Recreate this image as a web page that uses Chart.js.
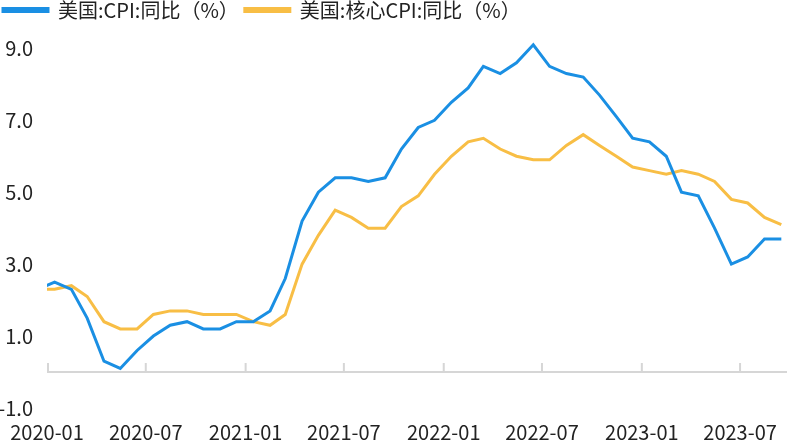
<!DOCTYPE html>
<html>
<head>
<meta charset="utf-8">
<script src="https://cdn.jsdelivr.net/npm/chart.js@4/dist/chart.umd.min.js"></script>
<style>
html,body{margin:0;padding:0;overflow:hidden;background:#fff;width:787px;height:443px;}
#wrap{position:absolute;left:-3px;top:-6px;width:793px;height:462px;}
</style>
</head>
<body>
<div id="wrap"><canvas id="c"></canvas></div>
<script>
// Months (observations dated mid-month)
const months = ['2019-12',
 '2020-01','2020-02','2020-03','2020-04','2020-05','2020-06','2020-07','2020-08','2020-09','2020-10','2020-11','2020-12',
 '2021-01','2021-02','2021-03','2021-04','2021-05','2021-06','2021-07','2021-08','2021-09','2021-10','2021-11','2021-12',
 '2022-01','2022-02','2022-03','2022-04','2022-05','2022-06','2022-07','2022-08','2022-09','2022-10','2022-11','2022-12',
 '2023-01','2023-02','2023-03','2023-04','2023-05','2023-06','2023-07','2023-08','2023-09'];
const cpiYoY = [2.3,
 2.5,2.3,1.5,0.3,0.1,0.6,1.0,1.3,1.4,1.2,1.2,1.4,
 1.4,1.7,2.6,4.2,5.0,5.4,5.4,5.3,5.4,6.2,6.8,7.0,
 7.5,7.9,8.5,8.3,8.6,9.1,8.5,8.3,8.2,7.7,7.1,6.5,
 6.4,6.0,5.0,4.9,4.0,3.0,3.2,3.7,3.7];
const coreCpiYoY = [2.3,
 2.3,2.4,2.1,1.4,1.2,1.2,1.6,1.7,1.7,1.6,1.6,1.6,
 1.4,1.3,1.6,3.0,3.8,4.5,4.3,4.0,4.0,4.6,4.9,5.5,
 6.0,6.4,6.5,6.2,6.0,5.9,5.9,6.3,6.6,6.3,6.0,5.7,
 5.6,5.5,5.6,5.5,5.3,4.8,4.7,4.3,4.1];
const xTickLabels = ['2020-01','2020-07','2021-01','2021-07','2022-01','2022-07','2023-01','2023-07'];
const yTickValues = [-1,1,3,5,7,9];
const seriesNames = ['美国:CPI:同比（%）','美国:核心CPI:同比（%）'];

const DAY = 86400000;
const origin = Date.UTC(2020,0,1);
function dayOf(ym, d){ const [y,m]=ym.split('-').map(Number); return (Date.UTC(y,m-1,d)-origin)/DAY; }
const xs = months.map(m=>dayOf(m,15));
const xTickValues = xTickLabels.map(l=>dayOf(l,1));
const xMax = dayOf('2023-10',1);

const FONT = "'Noto Sans CJK SC','Noto Sans',sans-serif";
const BLUE = '#1a8fe3', ORANGE = '#f8be45', AXIS = '#d6d6d6';

const zeroAxis = {
  id:'zeroAxis',
  beforeDatasetsDraw(chart){
    const {ctx, chartArea, scales:{x,y}} = chart;
    const y0 = y.getPixelForValue(0);
    ctx.save();
    ctx.strokeStyle = AXIS; ctx.lineWidth = 2;
    ctx.beginPath();
    ctx.moveTo(chartArea.left, y0); ctx.lineTo(chartArea.right, y0);
    x.ticks.forEach(t=>{
      const px = Math.max(x.getPixelForValue(t.value), chartArea.left+1);
      ctx.moveTo(px, y0); ctx.lineTo(px, y0-9);
    });
    ctx.stroke();
    ctx.restore();
  }
};

new Chart(document.getElementById('c'), {
  type:'line',
  data:{
    datasets:[
      {label:seriesNames[0], data:xs.map((x,i)=>({x, y:cpiYoY[i]})), borderColor:BLUE, backgroundColor:BLUE, borderWidth:3, pointRadius:0, tension:0, clip:0},
      {label:seriesNames[1], data:xs.map((x,i)=>({x, y:coreCpiYoY[i]})), borderColor:ORANGE, backgroundColor:ORANGE, borderWidth:3, pointRadius:0, tension:0, clip:0}
    ]
  },
  options:{
    responsive:true, maintainAspectRatio:false, animation:false,
    layout:{padding:{left:0,right:0,top:0,bottom:0}},
    plugins:{
      legend:{display:true, position:'top', align:'start',
        labels:{boxWidth:45, boxHeight:3, padding:6, color:'#222', font:{family:FONT, size:20}}},
      tooltip:{enabled:false}
    },
    scales:{
      x:{type:'linear', min:0, max:xMax,
        grid:{display:false, drawTicks:false}, border:{display:false},
        afterBuildTicks(s){ s.ticks = xTickValues.map(v=>({value:v})); },
        ticks:{autoSkip:false, maxRotation:0, padding:12, color:'#222', font:{family:FONT, size:20},
          callback(v){ const i = xTickValues.indexOf(v); return i>=0 ? xTickLabels[i] : ''; }}
      },
      y:{type:'linear', min:-1, max:9.51,
        grid:{display:false, drawTicks:false}, border:{display:false},
        afterBuildTicks(s){ s.ticks = yTickValues.map(v=>({value:v})); },
        afterFit(s){ s.width = 50; },
        ticks:{padding:14, color:'#222', font:{family:FONT, size:20},
          callback(v){ return Number(v).toFixed(1); }}
      }
    }
  },
  plugins:[zeroAxis]
});
</script>
</body>
</html>
